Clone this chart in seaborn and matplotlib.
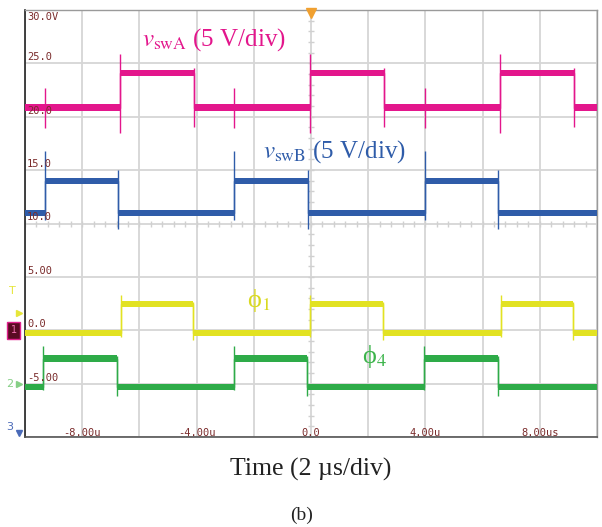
"""Oscilloscope capture: switch-node voltages and gate signals (5 V/div, 2 us/div)."""

import matplotlib

matplotlib.use("Agg")
import matplotlib.pyplot as plt
import numpy as np
import pandas as pd
import seaborn as sns

T_START, T_END = -10.0, 10.0

A_TIMES = [-10.0, -6.68, -4.09, -0.03, 2.55, 6.61, 9.20]
A_LEVELS = [20.85, 24.1, 20.85, 24.1, 20.85, 24.1, 20.85]

B_TIMES = [-10.0, -9.30, -6.75, -2.69, -0.10, 3.99, 6.54]
B_LEVELS = [11.0, 14.0, 11.0, 14.0, 11.0, 14.0, 11.0]

PHI1_TIMES = [-10.0, -6.64, -4.13, -0.03, 2.52, 6.64, 9.16]
PHI1_LEVELS = [-0.23, 2.44, -0.23, 2.44, -0.23, 2.44, -0.23]

PHI4_TIMES = [-10.0, -9.37, -6.78, -2.69, -0.14, 3.95, 6.54]
PHI4_LEVELS = [-5.32, -2.66, -5.32, -2.66, -5.32, -2.66, -5.32]

# switching overshoot / undershoot spikes
A_SPIKE_T = [-9.30, -6.68, -4.09, -2.69, -0.03, 2.55, 3.99, 6.61, 9.20]
A_SPIKE_LO = [18.9, 18.5, 19.0, 18.9, 18.5, 19.0, 18.9, 18.5, 19.0]
A_SPIKE_HI = [22.7, 25.9, 24.6, 22.7, 25.9, 24.6, 22.7, 25.9, 24.6]

B_SPIKE_T = [-9.30, -6.75, -2.69, -0.10, 3.99, 6.54]
B_SPIKE_LO = [10.3, 9.5, 10.3, 9.5, 10.3, 9.5]
B_SPIKE_HI = [16.8, 15.0, 16.8, 15.0, 16.8, 15.0]

PHI1_SPIKE_T = [-6.64, -4.13, -0.03, 2.52, 6.64, 9.16]
PHI1_SPIKE_LO = [-0.6, -0.9, -0.6, -0.9, -0.6, -0.9]
PHI1_SPIKE_HI = [3.3, 2.6, 3.3, 2.6, 3.3, 2.6]

PHI4_SPIKE_T = [-9.37, -6.78, -2.69, -0.14, 3.95, 6.54]
PHI4_SPIKE_LO = [-5.6, -6.2, -5.6, -6.2, -5.6, -6.2]
PHI4_SPIKE_HI = [-1.5, -2.4, -1.5, -2.4, -1.5, -2.4]

Y_TICK_VALUES = [30, 25, 20, 15, 10, 5, 0, -5]
Y_TICK_LABELS = ["30.0V", "25.0", "20.0", "15.0", "10.0", "5.00", "0.0", "-5.00"]
X_TICK_VALUES = [-8, -4, 0, 4, 8]
X_TICK_LABELS = ["-8.00u", "-4.00u", "0.0", "4.00u", "8.00us"]

COLORS = {
    "vswA": "#e3168c",
    "vswB": "#2f5ca9",
    "phi1": "#e2e222",
    "phi4": "#2eab48",
}
LABEL_RED = "#7a2b2b"
BAND = 0.3  # half thickness of the noisy trace band, volts


def build_frame():
    rows = []
    traces = [
        ("vswA", A_TIMES, A_LEVELS),
        ("vswB", B_TIMES, B_LEVELS),
        ("phi1", PHI1_TIMES, PHI1_LEVELS),
        ("phi4", PHI4_TIMES, PHI4_LEVELS),
    ]
    for name, times, levels in traces:
        for t, v in zip(times + [T_END], levels + [levels[-1]]):
            rows.append({"trace": name, "time": t, "volt": v})
    return pd.DataFrame(rows)


def main():
    sns.set_style("white")
    plt.rcParams["mathtext.fontset"] = "stix"

    fig = plt.figure(figsize=(6.02, 5.27), dpi=100)
    ax = fig.add_axes([25 / 602, 90 / 527, 572 / 602, 427 / 527])

    df = build_frame()

    # grid
    ax.set_xlim(T_START, T_END)
    ax.set_ylim(-10, 30)
    ax.set_xticks(np.arange(-10, 11, 2))
    ax.set_yticks(np.arange(-10, 31, 5))
    ax.grid(True, color="#d6d6d6", lw=1.3)
    ax.tick_params(length=0, labelbottom=False, labelleft=False)
    ax.set_axisbelow(True)

    # small division ticks along the centre lines
    ax.plot(np.zeros(41), np.arange(-10, 30.5, 1.0), ls="none", marker="_",
            ms=4, color="#d0d0d0", mew=1.0, zorder=1)
    ax.plot(np.arange(-10, 10.1, 0.4), np.full(51, 10.0), ls="none", marker="|",
            ms=4, color="#d0d0d0", mew=1.0, zorder=1)

    # thick noisy bands
    for name, grp in df.groupby("trace"):
        ax.fill_between(grp["time"], grp["volt"] - BAND, grp["volt"] + BAND,
                        step="post", color=COLORS[name], lw=0, zorder=3)

    # thin edges
    sns.lineplot(data=df, x="time", y="volt", hue="trace", palette=COLORS,
                 estimator=None, sort=False, drawstyle="steps-post", lw=1.0,
                 legend=False, ax=ax, zorder=3)

    spikes = [
        ("vswA", A_SPIKE_T, A_SPIKE_LO, A_SPIKE_HI),
        ("vswB", B_SPIKE_T, B_SPIKE_LO, B_SPIKE_HI),
        ("phi1", PHI1_SPIKE_T, PHI1_SPIKE_LO, PHI1_SPIKE_HI),
        ("phi4", PHI4_SPIKE_T, PHI4_SPIKE_LO, PHI4_SPIKE_HI),
    ]
    for name, ts, lo, hi in spikes:
        ax.vlines(ts, lo, hi, color=COLORS[name], lw=1.0, zorder=3)

    ax.set_xlabel("")
    ax.set_ylabel("")

    # frame
    for side in ["top", "right"]:
        ax.spines[side].set_color("#9a9a9a")
        ax.spines[side].set_linewidth(1.0)
    ax.spines["left"].set_color("#222222")
    ax.spines["left"].set_linewidth(1.2)
    ax.spines["bottom"].set_color("#555555")
    ax.spines["bottom"].set_linewidth(1.2)

    # scope scale labels
    mono = "DejaVu Sans Mono"
    for val, lab in zip(Y_TICK_VALUES, Y_TICK_LABELS):
        if val == 30:
            ax.text(-9.93, 29.8, lab, ha="left", va="top", fontsize=7.5,
                    family=mono, color=LABEL_RED, zorder=5)
        else:
            ax.text(-9.93, val + 0.1, lab, ha="left", va="bottom", fontsize=7.5,
                    family=mono, color=LABEL_RED, zorder=5)
    for val, lab in zip(X_TICK_VALUES, X_TICK_LABELS):
        ax.text(val, -9.65, lab, ha="center", va="center", fontsize=7.5,
                family=mono, color=LABEL_RED, zorder=5)

    # trigger position marker
    ax.plot([0], [29.75], marker="v", ms=7, color="#f0a030", ls="none",
            clip_on=False, zorder=6)

    # channel markers on the left
    ax.text(-10.45, 3.7, "T", ha="center", va="center", fontsize=8,
            color="#e6e63a", clip_on=False)
    ax.plot([-10.2], [1.6], marker=">", ms=5, color="#e6e63a", ls="none",
            clip_on=False)
    ax.text(-10.4, 0.0, "1", ha="center", va="center", fontsize=7,
            color="#f070b0", clip_on=False,
            bbox=dict(boxstyle="square,pad=0.35", fc="#5a0b22", ec="#e0208c", lw=1))
    ax.text(-10.55, -5.0, "2", ha="center", va="center", fontsize=8,
            color="#86cf86", clip_on=False)
    ax.plot([-10.2], [-5.0], marker=">", ms=4, color="#86cf86", ls="none",
            clip_on=False)
    ax.text(-10.55, -9.1, "3", ha="center", va="center", fontsize=8,
            color="#4a6ab8", clip_on=False)
    ax.plot([-10.2], [-9.6], marker="v", ms=4, color="#4a6ab8", ls="none",
            clip_on=False)

    # annotations
    serif = "Liberation Serif"
    ax.text(-5.91, 27.2, r"$v_{\mathrm{swA}}$ (5 V/div)", ha="left", va="center",
            fontsize=18, family=serif, color=COLORS["vswA"], zorder=6)
    ax.text(-1.68, 16.7, r"$v_{\mathrm{swB}}$ (5 V/div)", ha="left", va="center",
            fontsize=18, family=serif, color=COLORS["vswB"], zorder=6)
    ax.text(-2.24, 2.75, "\u03d5$_1$", ha="left", va="center",
            fontsize=19, family=serif, color="#d9d920", zorder=6)
    ax.text(1.78, -2.5, "\u03d5$_4$", ha="left", va="center",
            fontsize=19, family=serif, color="#3cb44b", zorder=6)

    fig.text(311 / 602, (527 - 469) / 527, "Time (2 \u00b5s/div)", ha="center",
             va="center", fontsize=18.5, family=serif, color="#222222")
    fig.text(302 / 602, (527 - 515) / 527, "(b)", ha="center", va="center",
             fontsize=14, family=serif, color="#222222")

    fig.savefig("out.png", dpi=100)
    plt.close(fig)


if __name__ == "__main__":
    main()
